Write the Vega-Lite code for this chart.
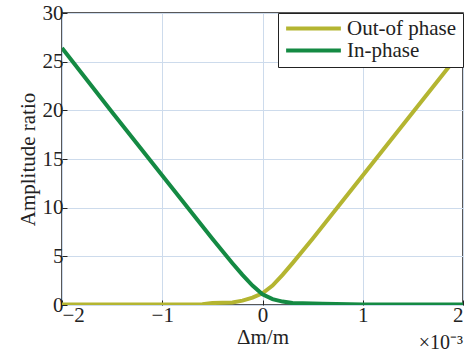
{
  "$schema": "https://vega.github.io/schema/vega-lite/v6.json",
  "width": 401,
  "height": 292,
  "autosize": {"type": "none"},
  "padding": {"left": 62, "top": 13, "right": 7, "bottom": 47},
  "background": "white",
  "config": {
    "font": "serif",
    "view": {"stroke": "#222", "strokeWidth": 1.5},
    "axis": {
      "labelFont": "serif", "titleFont": "serif",
      "labelFontSize": 21, "titleFontSize": 21, "labelColor": "#222", "titleColor": "#222",
      "titleFontWeight": "normal", "domain": false, "tickColor": "#222", "tickSize": -5,
      "gridColor": "#cddbec", "gridWidth": 1, "labelPadding": 4, "format": "d"
    },
    "legend": {"labelFont": "serif"},
    "text": {"font": "serif"}
  },
  "datasets": {
    "curves": [
      {"x": -2.0, "y": 0.05, "s": "Out-of phase"},
      {"x": -1.5, "y": 0.05, "s": "Out-of phase"},
      {"x": -1.0, "y": 0.05, "s": "Out-of phase"},
      {"x": -0.6, "y": 0.08, "s": "Out-of phase"},
      {"x": -0.5, "y": 0.2, "s": "Out-of phase"},
      {"x": -0.3, "y": 0.25, "s": "Out-of phase"},
      {"x": -0.2, "y": 0.45, "s": "Out-of phase"},
      {"x": -0.1, "y": 0.75, "s": "Out-of phase"},
      {"x": 0.0, "y": 1.2, "s": "Out-of phase"},
      {"x": 0.1, "y": 2.0, "s": "Out-of phase"},
      {"x": 0.2, "y": 3.1, "s": "Out-of phase"},
      {"x": 0.3, "y": 4.3, "s": "Out-of phase"},
      {"x": 0.5, "y": 6.8, "s": "Out-of phase"},
      {"x": 1.0, "y": 13.3, "s": "Out-of phase"},
      {"x": 1.5, "y": 19.8, "s": "Out-of phase"},
      {"x": 2.0, "y": 26.3, "s": "Out-of phase"},
      {"x": -2.0, "y": 26.4, "s": "In-phase"},
      {"x": -1.5, "y": 19.8, "s": "In-phase"},
      {"x": -1.0, "y": 13.3, "s": "In-phase"},
      {"x": -0.5, "y": 6.8, "s": "In-phase"},
      {"x": -0.3, "y": 4.3, "s": "In-phase"},
      {"x": -0.2, "y": 3.1, "s": "In-phase"},
      {"x": -0.1, "y": 2.0, "s": "In-phase"},
      {"x": 0.0, "y": 1.1, "s": "In-phase"},
      {"x": 0.1, "y": 0.6, "s": "In-phase"},
      {"x": 0.2, "y": 0.35, "s": "In-phase"},
      {"x": 0.3, "y": 0.2, "s": "In-phase"},
      {"x": 0.6, "y": 0.12, "s": "In-phase"},
      {"x": 1.0, "y": 0.05, "s": "In-phase"},
      {"x": 1.5, "y": 0.05, "s": "In-phase"},
      {"x": 2.0, "y": 0.05, "s": "In-phase"}
    ]
  },
  "layer": [
    {
      "data": {"name": "curves"},
      "mark": {"type": "line", "strokeWidth": 4, "clip": true},
      "encoding": {
        "x": {"field": "x", "type": "quantitative", "scale": {"domain": [-2, 2], "nice": false},
              "axis": {"values": [-2, -1, 0, 1, 2], "title": "Δm/m", "titlePadding": 1}},
        "y": {"field": "y", "type": "quantitative", "scale": {"domain": [0, 30], "nice": false},
              "axis": {"values": [0, 5, 10, 15, 20, 25, 30], "title": "Amplitude ratio", "labelPadding": 4, "titlePadding": 4}},
        "color": {"field": "s", "type": "nominal",
                  "scale": {"domain": ["Out-of phase", "In-phase"], "range": ["#b4b531", "#148a43"]},
                  "legend": {"title": null, "orient": "top-right", "offset": 0, "symbolType": "stroke",
                             "symbolSize": 3000, "symbolStrokeWidth": 4, "labelFontSize": 21,
                             "labelFont": "serif", "labelColor": "#222",
                             "strokeColor": "#222", "fillColor": "white", "padding": 6,
                             "clipHeight": 19, "rowPadding": 0, "labelOffset": 4}},
        "order": {"field": "x", "type": "quantitative"}
      }
    },
    {
      "data": {"values": [{"x": 2, "y": 0, "t": "×10⁻³"}]},
      "mark": {"type": "text", "align": "right", "baseline": "top", "dy": 28, "dx": 0, "fontSize": 20, "font": "serif", "color": "#222"},
      "encoding": {
        "x": {"field": "x", "type": "quantitative"},
        "y": {"field": "y", "type": "quantitative"},
        "text": {"field": "t"}
      }
    }
  ]
}
